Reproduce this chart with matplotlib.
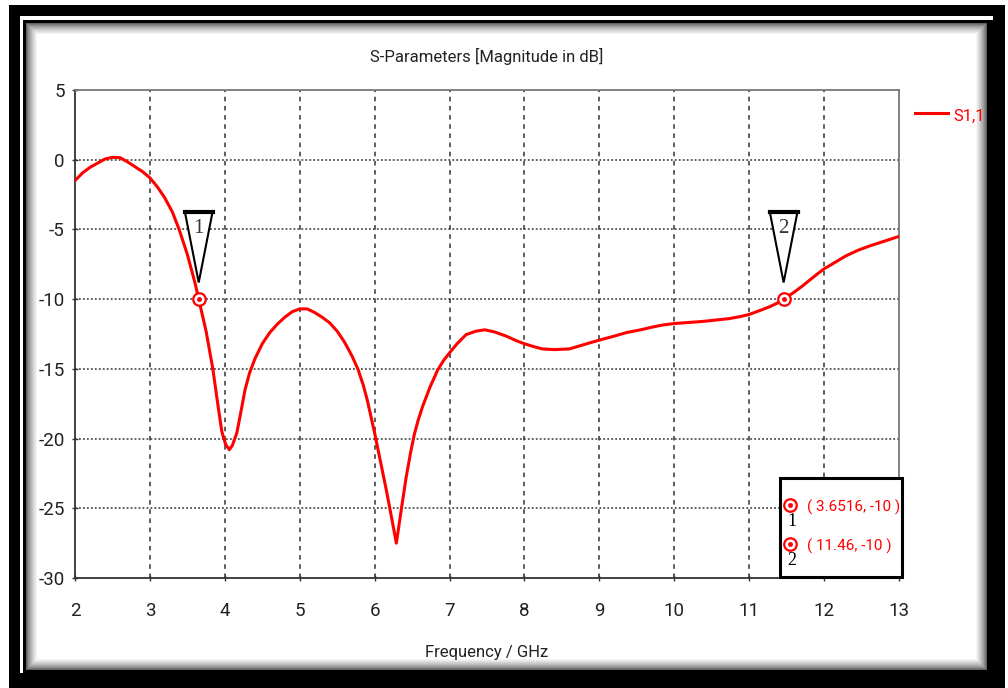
import numpy as np
import matplotlib
matplotlib.use("Agg")
import matplotlib.pyplot as plt
from matplotlib.patches import Rectangle, Polygon
from matplotlib.lines import Line2D
from matplotlib.transforms import Affine2D, ScaledTranslation

plt.rcParams["axes.unicode_minus"] = False

# S11 magnitude (dB) vs frequency (GHz)
freq = [2.0, 2.1, 2.2, 2.3, 2.4, 2.5, 2.6, 2.7, 2.8, 2.9, 3.0, 3.1, 3.2, 3.3,
        3.39, 3.5, 3.6, 3.6516, 3.75, 3.84, 3.9, 3.96, 4.01, 4.06, 4.1, 4.16,
        4.2, 4.27, 4.33, 4.4, 4.5, 4.6, 4.7, 4.8, 4.9, 5.0, 5.1, 5.2, 5.3, 5.4,
        5.5, 5.6, 5.7, 5.78, 5.85, 5.9, 5.95, 6.0, 6.08, 6.16, 6.22, 6.29, 6.35,
        6.42, 6.48, 6.53, 6.58, 6.64, 6.74, 6.84, 6.92, 7.0, 7.1, 7.22, 7.35,
        7.47, 7.6, 7.76, 7.9, 8.0, 8.12, 8.24, 8.4, 8.6, 8.8, 8.99, 9.2, 9.36,
        9.55, 9.71, 9.85, 10.0, 10.2, 10.38, 10.55, 10.73, 10.88, 11.0, 11.15,
        11.27, 11.37, 11.46, 11.6, 11.71, 11.85, 11.99, 12.15, 12.29, 12.45,
        12.6, 12.8, 13.0]
s11 = [-1.5, -0.95, -0.55, -0.25, 0.05, 0.17, 0.15, -0.15, -0.5, -0.85, -1.3,
       -1.95, -2.75, -3.75, -5.0, -6.8, -8.8, -10.0, -12.3, -15.0, -17.3, -19.5,
       -20.4, -20.8, -20.5, -19.6, -18.5, -16.5, -15.3, -14.3, -13.2, -12.4,
       -11.8, -11.3, -10.9, -10.7, -10.7, -10.96, -11.3, -11.7, -12.3, -13.1,
       -14.1, -15.06, -16.2, -17.2, -18.4, -19.6, -21.7, -23.8, -25.5, -27.5,
       -25.3, -22.8, -21.0, -19.7, -18.7, -17.7, -16.3, -15.1, -14.4, -13.85,
       -13.2, -12.55, -12.3, -12.2, -12.35, -12.66, -13.0, -13.2, -13.4, -13.57,
       -13.62, -13.57, -13.25, -12.95, -12.65, -12.4, -12.2, -12.0, -11.85,
       -11.75, -11.67, -11.6, -11.5, -11.4, -11.25, -11.1, -10.8, -10.55, -10.3,
       -10.0, -9.5, -9.06, -8.45, -7.86, -7.35, -6.9, -6.5, -6.2, -5.85, -5.5]

marker_freq = [3.6516, 11.46]
marker_db = [-10, -10]
marker_ids = ["1", "2"]
marker_text = ["( 3.6516, -10 )", "( 11.46, -10 )"]

xticks = list(range(2, 14))
yticks = list(range(-30, 6, 5))

W, H = 1008, 688
sans = ["Roboto", "DejaVu Sans"]
serif = ["Liberation Serif", "DejaVu Serif"]
txt = "#222222"
red = "#ff0000"

fig = plt.figure(figsize=(W / 100, H / 100), dpi=100)

# window frame drawn in pixel coordinates
bg = fig.add_axes([0, 0, 1, 1], zorder=-5)
bg.set_xlim(0, W)
bg.set_ylim(H, 0)
bg.axis("off")
bg.add_patch(Rectangle((9, 5), 996, 683, fc="black", ec="none"))
bg.add_patch(Rectangle((20, 16), 973, 657, fc="white", ec="none"))
bg.add_patch(Rectangle((23, 20), 970, 653, fc="black", ec="none"))
for i in range(12):
    g = 0.2 + 0.8 * ((i + 1) / 12) ** 0.6
    x0, y0 = 26 + i, 23 + i
    bg.add_patch(Rectangle((x0, y0), 993 - 6 - x0 - i, 673 - 3 - y0 - i,
                           fc=(g, g, g), ec="none"))

ax = fig.add_axes([75 / W, (H - 578) / H, 824 / W, 488 / H])
ax.plot(freq, s11, color=red, lw=2.2, zorder=3, solid_joinstyle="round")

ax.set_xlim(2, 13)
ax.set_ylim(-30, 5)
ax.set_xticks(xticks)
ax.set_yticks(yticks)
ax.tick_params(direction="inout", length=5, width=1, color="#333333",
               labelsize=13.5, labelcolor=txt)
ax.tick_params(axis="x", pad=15)
ax.tick_params(axis="y", pad=5)
for lab in ax.get_xticklabels() + ax.get_yticklabels():
    lab.set_family(sans)

for v in xticks[1:-1]:
    ax.axvline(v, color="#333333", lw=1.1, ls=(0, (3, 3)), zorder=1)
for v in yticks[1:-1]:
    ax.axhline(v, color="#333333", lw=1.1, ls=(0, (1.2, 1.4)), zorder=1)

ax.spines["left"].set_color("#333333")
ax.spines["bottom"].set_color("#333333")
ax.spines["top"].set_color("#777777")
ax.spines["right"].set_color("#777777")
for s in ax.spines.values():
    s.set_linewidth(1.3)

fig.text(487 / W, 1 - 56 / H, "S-Parameters [Magnitude in dB]", ha="center",
         va="center", fontsize=12, family=sans, color=txt)
fig.text(487 / W, 1 - 652 / H, "Frequency / GHz", ha="center", va="center",
         fontsize=12, family=sans, color=txt)

# markers on the curve with their flags
for f, d, k in zip(marker_freq, marker_db, marker_ids):
    ax.plot(f, d, "o", ms=9, mfc="white", mec=red, mew=1.6, zorder=5)
    ax.plot(f, d, "o", ms=2.5, color=red, zorder=6)
    at = ScaledTranslation(f, d, ax.transData)
    pts = Affine2D().scale(fig.dpi / 72)
    tri = Polygon([(0, 12), (-10, 63), (10, 63)], closed=True, fc="white",
                  ec="black", lw=1.5, transform=pts + at, zorder=6)
    ax.add_patch(tri)
    ax.add_line(Line2D([-10, 10], [63, 63], color="black", lw=3,
                       transform=pts + at, zorder=7))
    ax.text(0, 51, k, ha="center", va="center", fontsize=15, family=serif,
            color="#333344", transform=pts + at, zorder=8)

# marker readout box
ax.add_patch(Rectangle((0.8556, 0.002), 0.148, 0.203, transform=ax.transAxes,
                       fc="white", ec="black", lw=2.2, clip_on=False, zorder=9))
for i, (k, t) in enumerate(zip(marker_ids, marker_text)):
    yc = 1 - (505 + 39 * i - 90) / 488
    ax.plot(0.8674, yc, "o", ms=9, mfc="white", mec=red, mew=1.6,
            transform=ax.transAxes, clip_on=False, zorder=10)
    ax.plot(0.8674, yc, "o", ms=2.5, color=red, transform=ax.transAxes,
            clip_on=False, zorder=11)
    ax.text(0.8698, yc - 0.034, k, ha="center", va="center", fontsize=13,
            family=serif, color="black", transform=ax.transAxes, zorder=11)
    ax.text(0.8886, yc - 0.004, t, ha="left", va="center", fontsize=11,
            family=sans, color=red, transform=ax.transAxes, zorder=11)

# series legend
fig.add_artist(Line2D([915 / W, 948 / W], [1 - 113 / H, 1 - 113 / H],
                      color=red, lw=2.2))
fig.text(953 / W, 1 - 116 / H, "S1,1", ha="left", va="center", fontsize=12,
         family=sans, color=red)

fig.savefig("out.png", dpi=100)
